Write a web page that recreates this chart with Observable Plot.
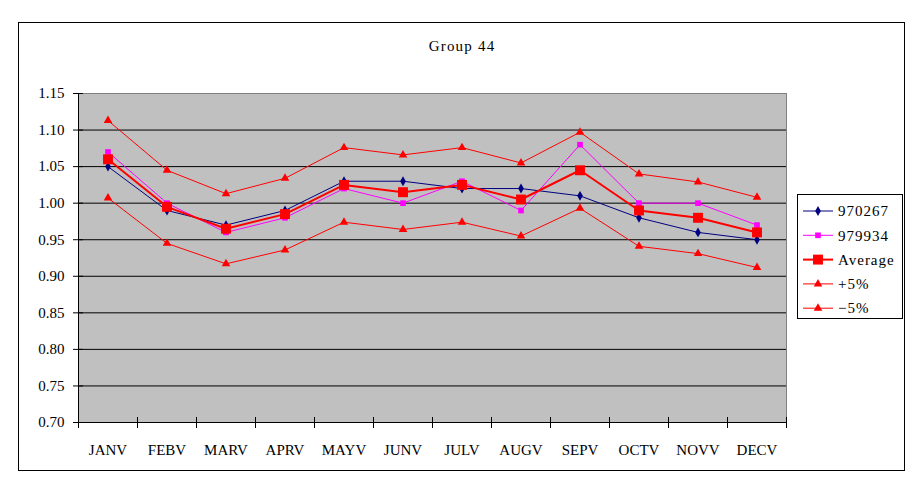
<!DOCTYPE html>
<html>
<head>
<meta charset="utf-8">
<script src="https://cdn.jsdelivr.net/npm/d3@7"></script>
<script src="https://cdn.jsdelivr.net/npm/@observablehq/plot@0.6"></script>
<style>
  html, body { margin: 0; padding: 0; background: #fff; }
  #wrap { position: relative; width: 917px; height: 483px; overflow: hidden; font-family: "Liberation Serif", Tinos, "DejaVu Serif", serif; }
  #border { position: absolute; left: 18px; top: 22px; width: 887px; height: 449px; border: 1px solid #000; box-sizing: border-box; }
  #title { position: absolute; left: 18px; width: 888px; top: 38px; text-align: center; font-size: 15px; letter-spacing: 1.2px; }
  #chart { position: absolute; left: 0; top: 0; }
  #legend { position: absolute; left: 797px; top: 194px; }
</style>
</head>
<body>
<div id="wrap">
  <div id="border"></div>
  <div id="title">Group 44</div>
  <div id="chart"></div>
  <div id="legend"></div>
</div>
<script>
const months = ["JANV","FEBV","MARV","APRV","MAYV","JUNV","JULV","AUGV","SEPV","OCTV","NOVV","DECV"];
const s970267 = [1.05,0.99,0.97,0.99,1.03,1.03,1.02,1.02,1.01,0.98,0.96,0.95];
const s979934 = [1.07,1.00,0.96,0.98,1.02,1.00,1.03,0.99,1.08,1.00,1.00,0.97];
const average = [1.06,0.995,0.965,0.985,1.025,1.015,1.025,1.005,1.045,0.99,0.98,0.96];
const plus5   = [1.113,1.045,1.013,1.034,1.076,1.066,1.076,1.055,1.097,1.040,1.029,1.008];
const minus5  = [1.007,0.945,0.917,0.936,0.974,0.964,0.974,0.955,0.993,0.941,0.931,0.912];
const yTicks = [0.70,0.75,0.80,0.85,0.90,0.95,1.00,1.05,1.10,1.15];
const gridLines = [0.75,0.80,0.85,0.90,0.95,1.00,1.05,1.10];

const FONT = "'Liberation Serif', Tinos, 'DejaVu Serif', serif";

const seriesDefs = [
  {name: "970267",  values: s970267, color: "#000080", width: 1, symbol: "diamond",  r: 3},
  {name: "979934",  values: s979934, color: "#FF00FF", width: 1, symbol: "square",   r: 3.2},
  {name: "Average", values: average, color: "#FF0000", width: 2, symbol: "square",   r: 5.6},
  {name: "+5%",     values: plus5,   color: "#FF0000", width: 1, symbol: "triangle", r: 3.2},
  {name: "\u22125%", values: minus5,  color: "#FF0000", width: 1, symbol: "triangle", r: 3.2}
];

const boundaries = d3.range(months.length + 1);
const centers = months.map((m, i) => i + 0.5);

const seriesMarks = [];
for (const s of seriesDefs) {
  const data = s.values.map((v, i) => ({x: i + 0.5, y: v}));
  seriesMarks.push(Plot.line(data, {x: "x", y: "y", stroke: s.color, strokeWidth: s.width}));
  seriesMarks.push(Plot.dot(data, {x: "x", y: "y", symbol: s.symbol, fill: s.color, stroke: "none", r: s.r}));
}

const chart = Plot.plot({
  width: 917,
  height: 483,
  marginLeft: 78,
  marginRight: 131,
  marginTop: 93,
  marginBottom: 61,
  x: {domain: [0, months.length], axis: null, label: null},
  y: {domain: [0.70, 1.15], axis: null, label: null},
  style: {fontFamily: FONT, fontSize: "14px", background: "transparent", color: "#000"},
  marks: [
    Plot.frame({fill: "#C0C0C0", stroke: "#808080"}),
    Plot.ruleY(gridLines, {stroke: "#000", strokeWidth: 1}),
    Plot.ruleX([0], {stroke: "#000"}),
    Plot.ruleY([0.70], {stroke: "#000"}),
    Plot.axisY({ticks: yTicks, tickSize: 10, dx: 5, tickFormat: () => "", label: null, stroke: "#000", strokeOpacity: 1}),
    Plot.axisY({ticks: yTicks, tickSize: 0, tickPadding: 14, label: null, fontSize: 15, tickFormat: d3.format(".2f"), fill: "#000", style: {letterSpacing: "2px"}}),
    Plot.axisX({ticks: boundaries, tickSize: 11, dy: -5, tickFormat: () => "", label: null, stroke: "#000", strokeOpacity: 1}),
    Plot.axisX({ticks: centers, tickSize: 0, tickPadding: 22, label: null, fontSize: 15, tickFormat: d => months[Math.floor(d)], fill: "#000"}),
    ...seriesMarks
  ]
});
document.getElementById("chart").appendChild(chart);

// Legend
const lw = 106, lh = 125;
const legend = d3.select("#legend").append("svg").attr("width", lw).attr("height", lh);
legend.append("rect").attr("x", 0.5).attr("y", 0.5).attr("width", lw - 1).attr("height", lh - 1)
  .attr("fill", "#fff").attr("stroke", "#000");
const symMap = {diamond: d3.symbolDiamond, square: d3.symbolSquare, triangle: d3.symbolTriangle};
seriesDefs.forEach((s, i) => {
  const cy = 17 + i * 24.3;
  const g = legend.append("g");
  g.append("line").attr("x1", 6).attr("x2", 36).attr("y1", cy).attr("y2", cy)
    .attr("stroke", s.color).attr("stroke-width", s.width);
  g.append("path").attr("d", d3.symbol(symMap[s.symbol], s.r * s.r * Math.PI)())
    .attr("transform", `translate(21,${cy})`).attr("fill", s.color);
  g.append("text").attr("x", 41).attr("y", cy).attr("dy", "0.35em")
    .attr("font-family", FONT).attr("font-size", 15)
    .attr("letter-spacing", "1px").attr("fill", "#000").text(s.name);
});
</script>
</body>
</html>
